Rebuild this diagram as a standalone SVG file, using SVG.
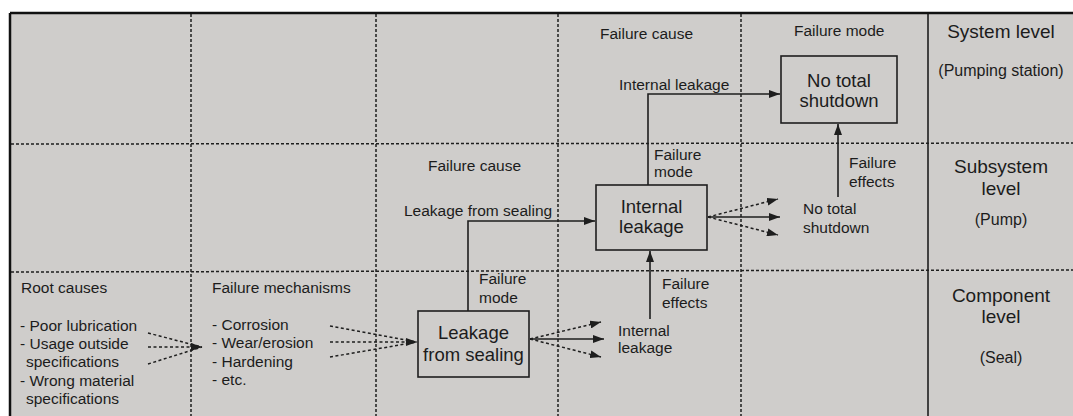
<svg xmlns="http://www.w3.org/2000/svg" width="1073" height="416" viewBox="0 0 1073 416">
<style>
  text { font-family: "Liberation Sans", Arial, sans-serif; fill: #1c1c1c; }
  .lbl { font-size: 15.5px; }
  .box-t { font-size: 18.5px; text-anchor: middle; }
  .ttl { font-size: 19px; text-anchor: middle; }
  .sub { font-size: 16px; text-anchor: middle; }
  .grid { stroke: #1e1e1e; stroke-width: 1.5; stroke-dasharray: 3 2; fill: none; }
  .box { fill: none; stroke: #1e1e1e; stroke-width: 1.6; }
  .solid { stroke: #1e1e1e; stroke-width: 1.6; fill: none; }
  .dot { stroke: #1e1e1e; stroke-width: 1.5; stroke-dasharray: 3 2.5; fill: none; }
</style>
<defs>
  <marker id="ah" markerUnits="userSpaceOnUse" markerWidth="11" markerHeight="8" refX="11" refY="4" orient="auto">
    <path d="M0,0 L11,4 L0,8 z" fill="#1e1e1e"/>
  </marker>
</defs>
<rect x="0" y="0" width="1073" height="416" fill="#ffffff"/>
<rect x="10" y="13" width="1063" height="403" fill="#cfcdcb"/>

<g id="grid">
  <line class="grid" x1="191" y1="14" x2="191" y2="416"/>
  <line class="grid" x1="376" y1="14" x2="376" y2="416"/>
  <line class="grid" x1="558" y1="14" x2="558" y2="416"/>
  <line class="grid" x1="741" y1="14" x2="741" y2="416"/>
  <line class="grid" x1="11" y1="144" x2="1073" y2="143"/>
  <line class="grid" x1="11" y1="272" x2="1073" y2="270"/>
  <line x1="928" y1="13" x2="928" y2="416" stroke="#1e1e1e" stroke-width="1.6"/>
  <line x1="10" y1="13" x2="1073" y2="13" stroke="#111" stroke-width="2.5"/>
  <line x1="10" y1="13" x2="10" y2="416" stroke="#111" stroke-width="2.5"/>
</g>

<g id="level-system">
  <text class="ttl" x="1001" y="38">System level</text>
  <text class="sub" x="1001" y="76">(Pumping station)</text>
</g>
<g id="level-subsystem">
  <text class="ttl" x="1001" y="173">Subsystem</text>
  <text class="ttl" x="1001" y="195">level</text>
  <text class="sub" x="1001" y="225">(Pump)</text>
</g>
<g id="level-component">
  <text class="ttl" x="1001" y="302">Component</text>
  <text class="ttl" x="1001" y="323">level</text>
  <text class="sub" x="1001" y="363">(Seal)</text>
</g>

<g id="root-causes">
  <text class="lbl" x="21" y="293">Root causes</text>
  <text class="lbl" x="20" y="331">- Poor lubrication</text>
  <text class="lbl" x="20" y="349">- Usage outside</text>
  <text class="lbl" x="26" y="367">specifications</text>
  <text class="lbl" x="20" y="386">- Wrong material</text>
  <text class="lbl" x="26" y="404">specifications</text>
</g>

<g id="failure-mechanisms">
  <text class="lbl" x="212" y="293">Failure mechanisms</text>
  <text class="lbl" x="212" y="330">- Corrosion</text>
  <text class="lbl" x="212" y="348">- Wear/erosion</text>
  <text class="lbl" x="212" y="367">- Hardening</text>
  <text class="lbl" x="212" y="385">- etc.</text>
</g>

<g id="node-leakage-from-sealing">
  <rect class="box" x="418" y="311" width="111" height="66"/>
  <text class="box-t" x="473.5" y="339">Leakage</text>
  <text class="box-t" x="473.5" y="361">from sealing</text>
</g>

<g id="node-internal-leakage">
  <rect class="box" x="596" y="185" width="111" height="65"/>
  <text class="box-t" x="651.5" y="213">Internal</text>
  <text class="box-t" x="651.5" y="233">leakage</text>
</g>

<g id="node-no-total-shutdown">
  <rect class="box" x="781" y="56" width="116" height="67"/>
  <text class="box-t" x="839" y="87">No total</text>
  <text class="box-t" x="839" y="107">shutdown</text>
</g>

<g id="labels">
  <text class="lbl" x="479" y="284">Failure</text>
  <text class="lbl" x="479" y="303">mode</text>
  <text class="lbl" x="662" y="289">Failure</text>
  <text class="lbl" x="662" y="308">effects</text>
  <text class="lbl" x="618" y="336">Internal</text>
  <text class="lbl" x="618" y="353">leakage</text>

  <text class="lbl" x="428" y="171">Failure cause</text>
  <text class="lbl" x="404" y="216">Leakage from sealing</text>
  <text class="lbl" x="654" y="160">Failure</text>
  <text class="lbl" x="654" y="177">mode</text>
  <text class="lbl" x="849" y="168">Failure</text>
  <text class="lbl" x="849" y="187">effects</text>
  <text class="lbl" x="803" y="214">No total</text>
  <text class="lbl" x="803" y="233">shutdown</text>

  <text class="lbl" x="600" y="39">Failure cause</text>
  <text class="lbl" x="794" y="36">Failure mode</text>
  <text class="lbl" x="619" y="90">Internal leakage</text>
</g>

<g id="connectors">
  <path class="dot" d="M148,333 L202,347"/>
  <path class="dot" d="M148,347 L202,347" marker-end="url(#ah)"/>
  <path class="dot" d="M148,364 L202,347"/>

  <path class="dot" d="M330,326 L417,342"/>
  <path class="dot" d="M330,342 L417,342" marker-end="url(#ah)"/>
  <path class="dot" d="M330,357 L417,342"/>

  <path class="solid" d="M468,311 V221 H595" marker-end="url(#ah)"/>
  <path class="solid" d="M648,185 V94 H780" marker-end="url(#ah)"/>
  <path class="solid" d="M650,319 V251" marker-end="url(#ah)"/>
  <path class="solid" d="M838,197 V124" marker-end="url(#ah)"/>

  <path class="solid" d="M530,339 H604" marker-end="url(#ah)"/>
  <path class="dot" d="M530,339 L601,322" marker-end="url(#ah)"/>
  <path class="dot" d="M530,339 L601,357" marker-end="url(#ah)"/>

  <path class="solid" d="M708,217 H780" marker-end="url(#ah)"/>
  <path class="dot" d="M708,217 L778,199" marker-end="url(#ah)"/>
  <path class="dot" d="M708,217 L778,235" marker-end="url(#ah)"/>
</g>
</svg>
